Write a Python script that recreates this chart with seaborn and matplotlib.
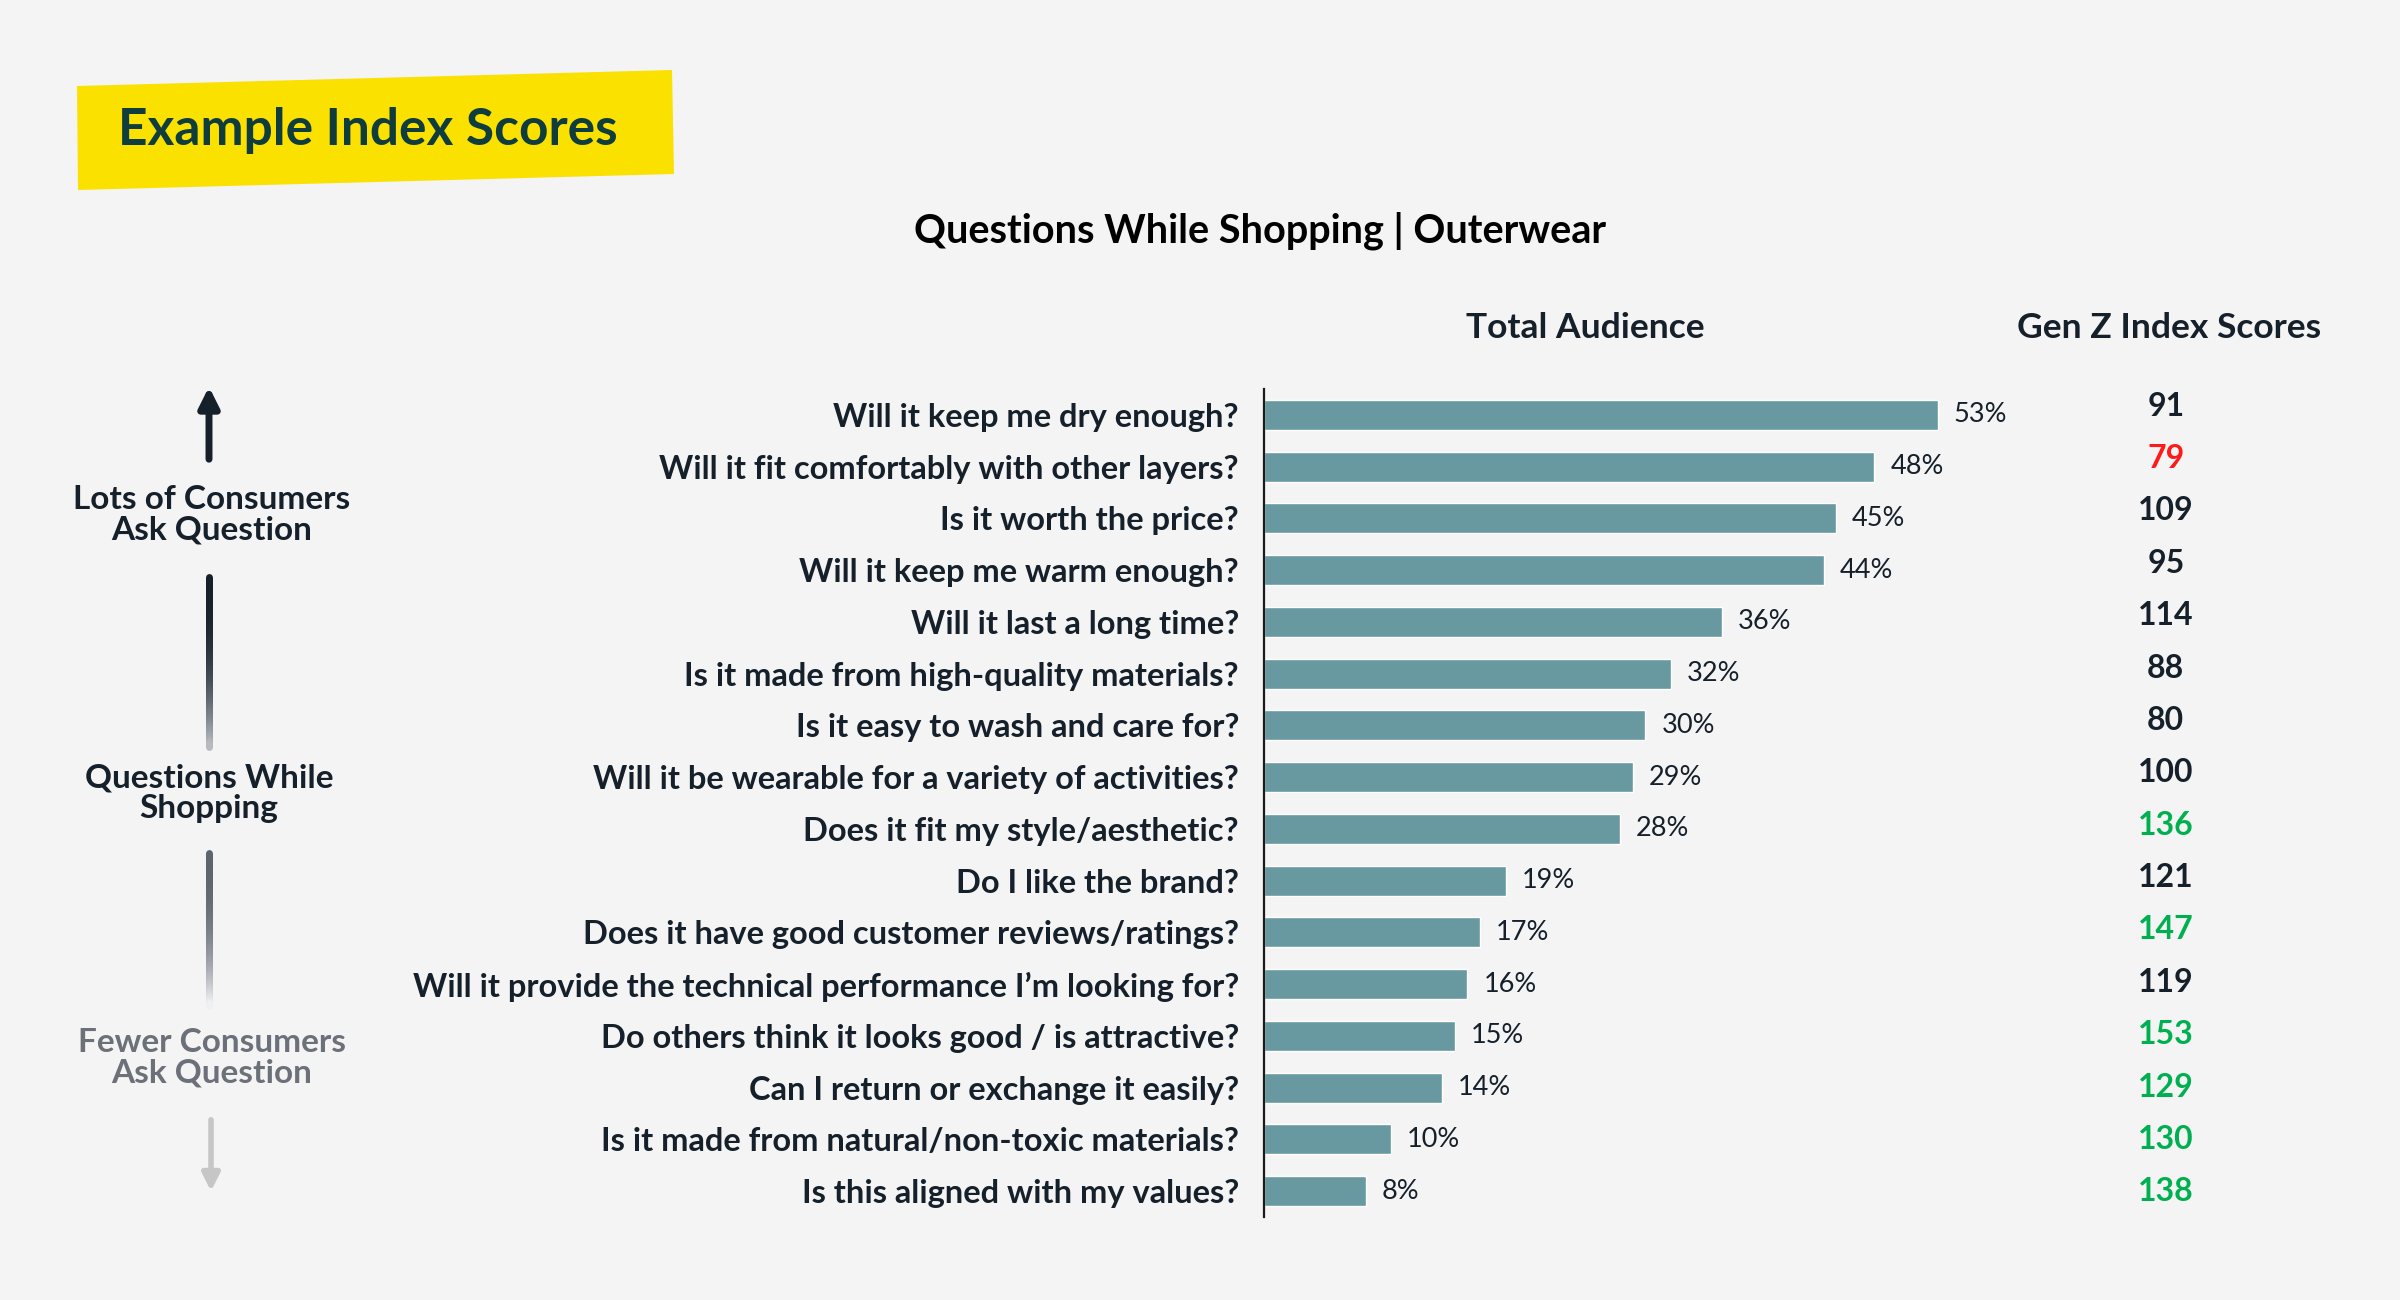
import numpy as np
import pandas as pd
import seaborn as sns
import matplotlib
import matplotlib.pyplot as plt
from matplotlib.collections import LineCollection
from matplotlib.patches import Polygon
import matplotlib.colors as mcolors


questions = [
    'Will it keep me dry enough?',
    'Will it fit comfortably with other layers?',
    'Is it worth the price?',
    'Will it keep me warm enough?',
    'Will it last a long time?',
    'Is it made from high-quality materials?',
    'Is it easy to wash and care for?',
    'Will it be wearable for a variety of activities?',
    'Does it fit my style/aesthetic?',
    'Do I like the brand?',
    'Does it have good customer reviews/ratings?',
    'Will it provide the technical performance I\u2019m looking for?',
    'Do others think it looks good / is attractive?',
    'Can I return or exchange it easily?',
    'Is it made from natural/non-toxic materials?',
    'Is this aligned with my values?',
]
total_pct = [53, 48, 45, 44, 36, 32, 30, 29, 28, 19, 17, 16, 15, 14, 10, 8]
genz_index = [91, 79, 109, 95, 114, 88, 80, 100, 136, 121, 147, 119, 153, 129, 130, 138]
# 'low' = red, 'high' = green, 'mid' = dark
index_flag = ['mid', 'low', 'mid', 'mid', 'mid', 'mid', 'mid', 'mid',
              'high', 'mid', 'high', 'mid', 'high', 'high', 'high', 'high']

BG = '#f4f4f4'
BAR = '#6899a0'
DARK = '#15202b'
flag_colors = {'low': '#ff1a1a', 'high': '#00b050', 'mid': DARK}

sns.set_theme(style='white')
plt.rcParams['font.family'] = ['Lato', 'DejaVu Sans']

fig = plt.figure(figsize=(24, 13), dpi=100, facecolor=BG)

# overlay in pixel coords for decorations
deco = fig.add_axes([0, 0, 1, 1], zorder=0)
deco.set_xlim(0, 2400)
deco.set_ylim(1300, 0)
deco.axis('off')
deco.patch.set_alpha(0)

# yellow title box, slightly tilted
deco.add_patch(Polygon([(77, 86), (672, 70), (674, 174), (78, 190)],
                       closed=True, facecolor='#fae100', edgecolor='none'))
deco.text(118, 130, 'Example Index Scores', fontsize=37, fontweight='bold',
          color='#0f3d3e', ha='left', va='center')

deco.text(1260, 231, 'Questions While Shopping | Outerwear', fontsize=28.5,
          fontweight='bold', color='black', ha='center', va='center')
deco.text(1585, 328, 'Total Audience', fontsize=25.5, fontweight='bold',
          color=DARK, ha='center', va='center')
deco.text(2169, 328, 'Gen Z Index Scores', fontsize=25.5, fontweight='bold',
          color=DARK, ha='center', va='center')


def grad_line(x, y0, y1, c0, c1, lw=5, n=60):
    ys = np.linspace(y0, y1, n + 1)
    segs = [[(x, ys[i]), (x, ys[i + 1])] for i in range(n)]
    a = np.array(mcolors.to_rgba(c0))
    b = np.array(mcolors.to_rgba(c1))
    t = np.linspace(0, 1, n) ** 2.5
    cols = [a + (b - a) * ti for ti in t]
    lc = LineCollection(segs, colors=cols, linewidths=lw, capstyle='round')
    deco.add_collection(lc)


ax_x = 209
# up arrow
deco.annotate('', xy=(ax_x, 384), xytext=(ax_x, 462),
              arrowprops=dict(arrowstyle='-|>', lw=5, color=DARK,
                              mutation_scale=30, capstyle='round'))
deco.text(ax_x + 3, 515, 'Lots of Consumers\nAsk Question', fontsize=24,
          fontweight='bold', color=DARK, ha='center', va='center', linespacing=1.05)
grad_line(ax_x, 577, 747, DARK, '#b7bbc0')
deco.text(ax_x, 793, 'Questions While\nShopping', fontsize=24,
          fontweight='bold', color=DARK, ha='center', va='center', linespacing=1.05)
grad_line(ax_x, 853, 1006, '#5e646c', '#eef0f4')
deco.text(ax_x + 3, 1058, 'Fewer Consumers\nAsk Question', fontsize=24,
          fontweight='bold', color='#6b7079', ha='center', va='center', linespacing=1.05)
deco.annotate('', xy=(ax_x + 2, 1194), xytext=(ax_x + 2, 1117),
              arrowprops=dict(arrowstyle='-|>', lw=4, color='#c6c6c6',
                              mutation_scale=26))

# bar chart
ax = fig.add_axes([1264 / 2400, 1 - 1217 / 1300, 763 / 2400, (1217 - 389) / 1300], zorder=1)
ax.patch.set_alpha(0)
df = pd.DataFrame({'question': questions, 'pct': total_pct})
sns.barplot(data=df, x='pct', y='question', color=BAR, saturation=1,
            width=0.58, ax=ax)
ax.set_xlim(0, 60)
ax.set_ylim(15.5, -0.5)
ax.set_xlabel('')
ax.set_ylabel('')
ax.set_xticks([])
ax.tick_params(axis='y', length=0, pad=18)
for lbl in ax.get_yticklabels():
    lbl.set_fontsize(23.5)
    lbl.set_fontweight('bold')
    lbl.set_color(DARK)
for s in ['top', 'right', 'bottom']:
    ax.spines[s].set_visible(False)
ax.spines['left'].set_color('#1a1a1a')
ax.spines['left'].set_linewidth(1.6)

for i, v in enumerate(total_pct):
    ax.text(v + 1.25, i, f'{v}%', fontsize=19.5, color=DARK, ha='left', va='center')

# index score column, own axes (rows spaced slightly wider than bars)
ax2 = fig.add_axes([2100 / 2400, 1 - 1218 / 1300, 140 / 2400, (1218 - 380) / 1300], zorder=1)
ax2.set_xlim(0, 1)
ax2.set_ylim(15.5, -0.5)
ax2.axis('off')
for i, (s, f) in enumerate(zip(genz_index, index_flag)):
    ax2.text(0.47, i, str(s), fontsize=23, fontweight='bold',
             color=flag_colors[f], ha='center', va='center')

fig.savefig('out.png', dpi=100, facecolor=BG)
